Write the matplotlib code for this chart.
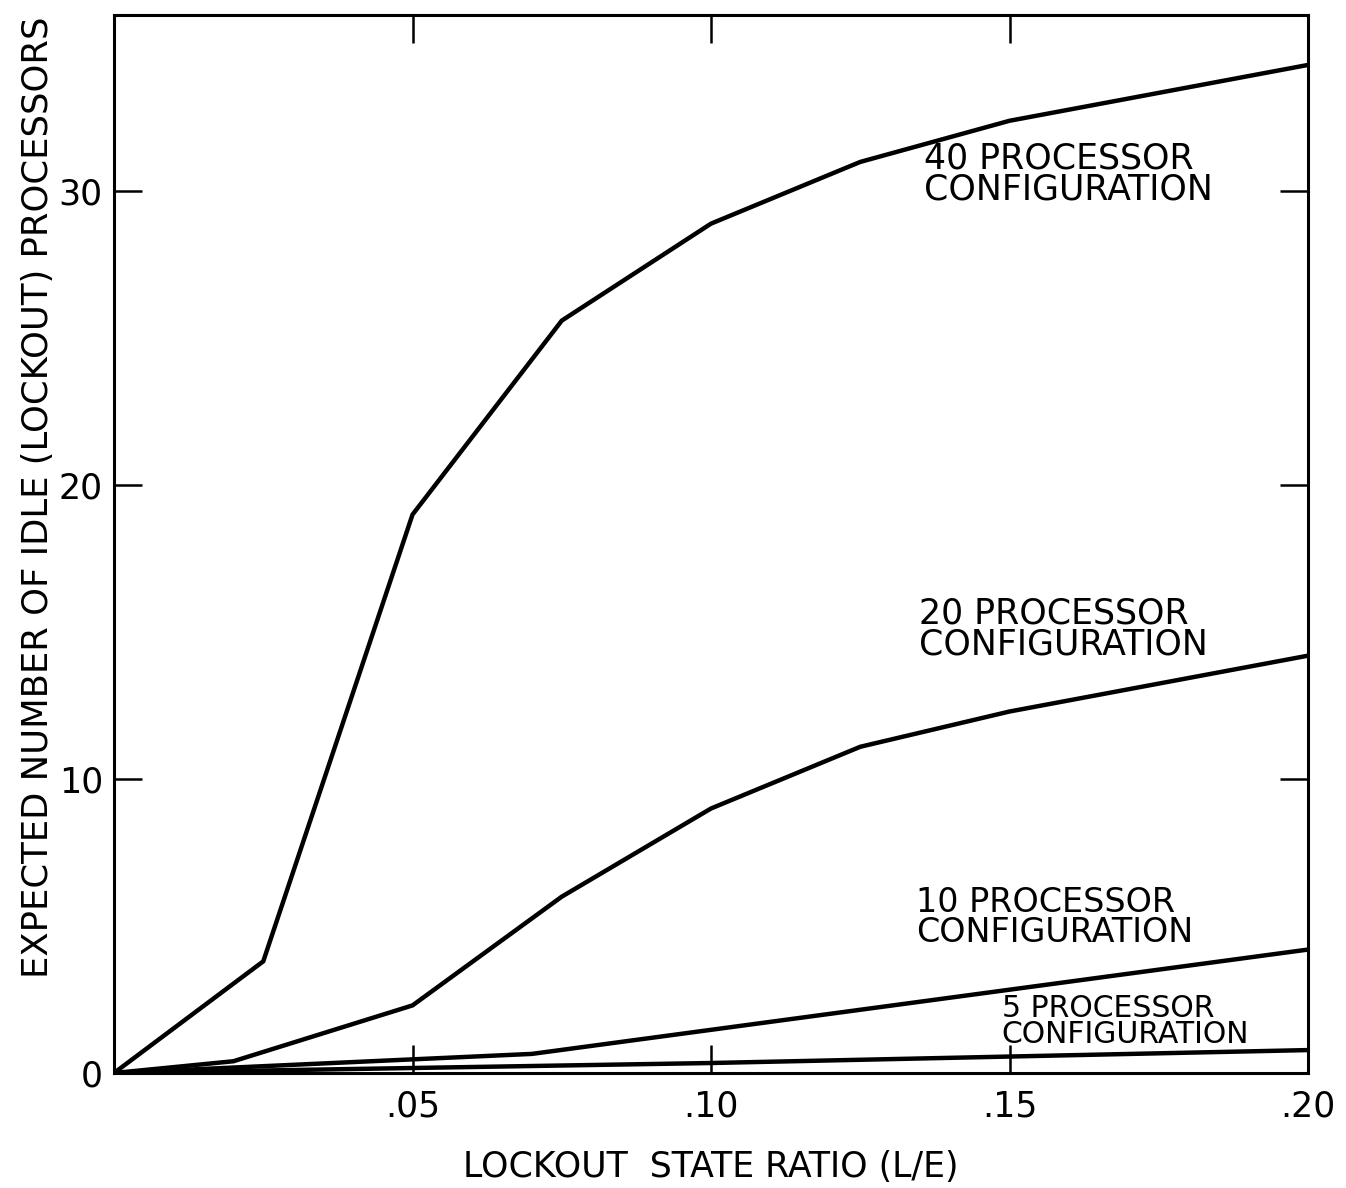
import matplotlib
matplotlib.use("Agg")
import matplotlib.pyplot as plt

# Data
x40 = [0, 0.025, 0.05, 0.075, 0.10, 0.125, 0.15, 0.20]
y40 = [0, 3.8, 19.0, 25.6, 28.9, 31.0, 32.4, 34.3]

x20 = [0, 0.02, 0.05, 0.075, 0.10, 0.125, 0.15, 0.20]
y20 = [0, 0.4, 2.3, 6.0, 9.0, 11.1, 12.3, 14.2]

x10 = [0, 0.07, 0.20]
y10 = [0, 0.65, 4.2]

x5 = [0, 0.10, 0.20]
y5 = [0, 0.34, 0.78]

xticks = [0.05, 0.10, 0.15, 0.20]
xticklabels = [".05", ".10", ".15", ".20"]
yticks = [0, 10, 20, 30]
yticklabels = ["0", "10", "20", "30"]

labels = [
    ("40 PROCESSOR\nCONFIGURATION", 0.1356, 30.6, 25),
    ("20 PROCESSOR\nCONFIGURATION", 0.1348, 15.1, 25),
    ("10 PROCESSOR\nCONFIGURATION", 0.1344, 5.28, 24),
    ("5 PROCESSOR\nCONFIGURATION", 0.1487, 1.76, 21.5),
]

plt.rcParams['font.family'] = ['DejaVu Sans']

fig = plt.figure(figsize=(13.46, 11.88), dpi=100)
ax = fig.add_axes([0.0847, 0.0968, 0.9718 - 0.0847, 0.9874 - 0.0968])

lw = 3.2
for xs, ys in [(x40, y40), (x20, y20), (x10, y10), (x5, y5)]:
    ax.plot(xs, ys, color="black", lw=lw, solid_joinstyle="miter")

ax.set_xlim(0, 0.20)
ax.set_ylim(0, 36)

ax.set_xticks(xticks)
ax.set_xticklabels(xticklabels)
ax.set_yticks(yticks)
ax.set_yticklabels(yticklabels)

ax.tick_params(direction="in", length=20, width=1.8, top=True, right=True,
               labelsize=25)
ax.tick_params(axis="x", pad=12)
ax.tick_params(axis="y", pad=8)

for s in ax.spines.values():
    s.set_linewidth(2.2)

for text, x, y, fs in labels:
    ax.text(x, y, text, fontsize=fs, ha="left", va="center",
            linespacing=0.88)

ax.set_xlabel("LOCKOUT  STATE RATIO (L/E)", fontsize=25, labelpad=19)
ax.set_ylabel("EXPECTED NUMBER OF IDLE (LOCKOUT) PROCESSORS", fontsize=25.5)
ax.yaxis.set_label_coords(-0.049, 0.544)

fig.savefig("out.png", dpi=100)
